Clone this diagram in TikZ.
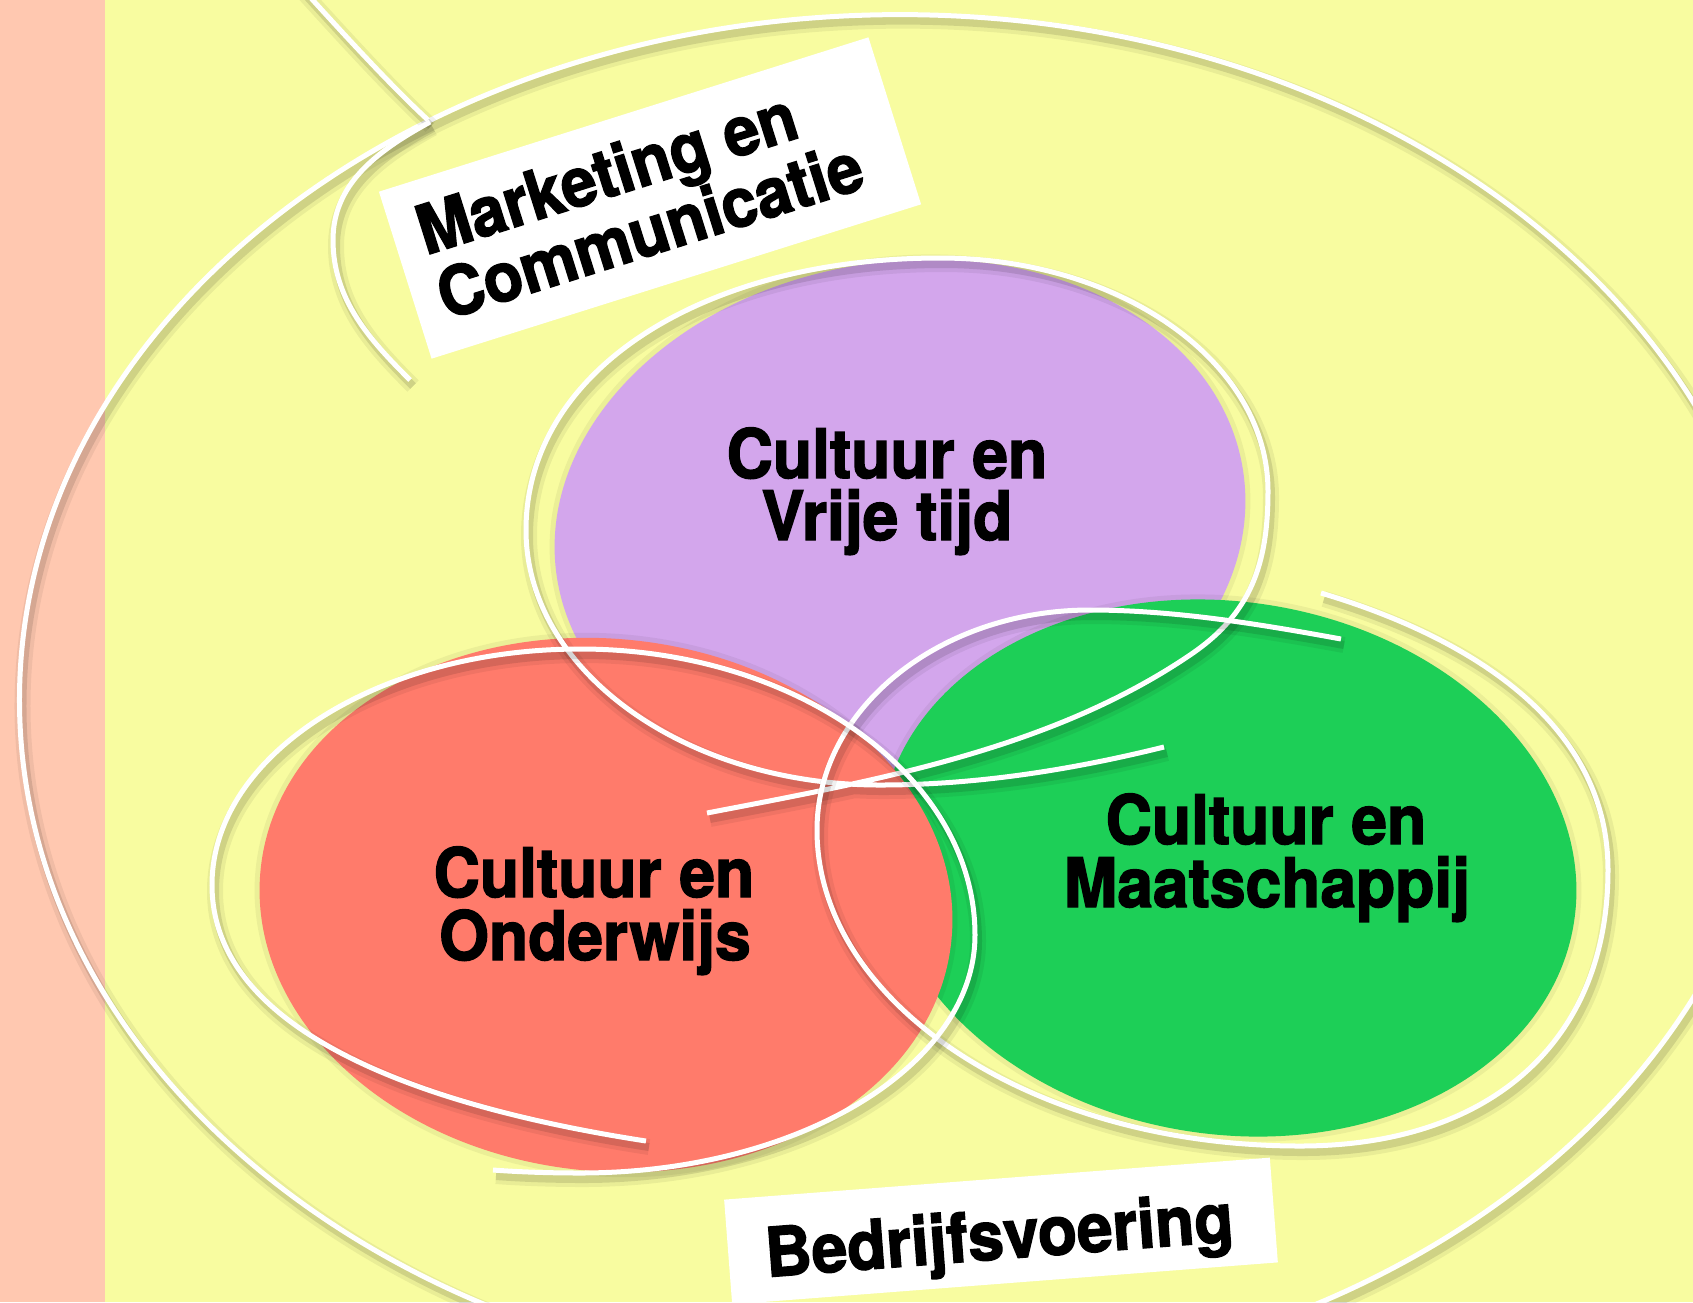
\documentclass[tikz,border=0pt]{standalone}
\usepackage{fontspec}
\newfontfamily\lblfont{TeX Gyre Heros}[FakeStretch=0.94, FakeBold=2]
\definecolor{bgyellow}{HTML}{F8FCA0}
\definecolor{stripc}{HTML}{FFC8B0}
\definecolor{purp}{HTML}{D3A6EC}
\definecolor{redc}{HTML}{FF7B6B}
\definecolor{grn}{HTML}{1DCF57}
\tikzset{
  ring/.style={draw=white, line width=0.05cm,
    preaction={draw=black, opacity=0.06, line width=0.16cm, transform canvas={xshift=0.03cm,yshift=-0.06cm}},
    preaction={draw=black, opacity=0.11, line width=0.08cm, transform canvas={xshift=0.03cm,yshift=-0.06cm}}},
  blob/.style={preaction={draw=black, opacity=0.05, line width=0.1cm}},
  lbl/.style={font=\lblfont\bfseries\fontsize{19.4pt}{19.3pt}\selectfont, text=black, inner sep=0pt},
  tagbox/.style={fill=white, draw=none, inner sep=0pt}
}
\begin{document}
\begin{tikzpicture}[x=0.01cm, y=-0.01cm]
\useasboundingbox (0,0) rectangle (1693,1302);
\clip (0,0) rectangle (1693,1302);
\fill[bgyellow] (0,0) rectangle (1693,1302);
\fill[stripc] (0,0) rectangle (105,1302);

% coloured fields
\fill[purp, blob, rotate around={9:(900,524)}] (900,524) ellipse [x radius=3.47cm, y radius=2.62cm];
\fill[grn, blob, rotate around={-9:(1228,868)}] (1228,868) ellipse [x radius=3.5cm, y radius=2.66cm];
\fill[redc, blob, rotate around={-6:(606,905)}] (606,905) ellipse [x radius=3.47cm, y radius=2.66cm];

% outer ring
\draw[ring] (900,700) ellipse [x radius=8.8cm, y radius=6.85cm];
% top line and inner arc
\draw[ring] (300,-14) .. controls (340,30) and (390,85) .. (428,120);
\draw[ring] (430,122) .. controls (375,152) and (333,185) .. (333,240)
                      .. controls (333,300) and (370,340) .. (410,380);

% purple ring
\draw[ring] (707,813) .. controls (873,781) and (1050,750) .. (1190,655)
  .. controls (1251,614) and (1268,564) .. (1268,491)
  .. controls (1268,362) and (1121,258) .. (940,258)
  .. controls (700,258) and (526,372) .. (526,530)
  .. controls (526,671) and (685,785) .. (880,785)
  .. controls (976,785) and (1071,770) .. (1164,747);

% green ring
\draw[ring] (1321,593) .. controls (1465,636) and (1608,720) .. (1608,870)
  .. controls (1608,1041) and (1491,1146) .. (1300,1146)
  .. controls (1033,1146) and (817,1004) .. (817,830)
  .. controls (817,709) and (939,610) .. (1090,610)
  .. controls (1174,610) and (1259,624) .. (1341,639);

% red ring
\draw[ring] (646,1141) .. controls (406,1104) and (212,1026) .. (212,885)
  .. controls (212,755) and (377,649) .. (580,649)
  .. controls (798,649) and (975,777) .. (975,935)
  .. controls (975,1066) and (798,1173) .. (580,1173)
  .. controls (550,1173) and (520,1172) .. (493,1170);

% field labels
\node[lbl, anchor=base] (p1) at (887,478) {Cultuur en};
\node[lbl, anchor=base] (p2) at (887,540) {Vrije tijd};
\node[lbl, anchor=base] (r1) at (594,897) {Cultuur en};
\node[lbl, anchor=base] (r2) at (595,960) {Onderwijs};
\node[lbl, anchor=base] (g1) at (1266,844) {Cultuur en};
\node[lbl, anchor=base] (g2) at (1267,907) {Maatschappij};

% tags
\node[tagbox, rotate=17.5, minimum width=5.13cm, minimum height=1.75cm] (mkbox) at (650,198) {};
\node[lbl, rotate=17.5, align=left, anchor=west] (mk) at (428,264) {Marketing en\\Communicatie};

\node[tagbox, rotate=4.4, minimum width=5.47cm, minimum height=1.05cm] (bvbox) at (1001,1231) {};
\node[lbl, rotate=4.4, anchor=base] (bv) at (1001,1259) {Bedrijfsvoering};
\end{tikzpicture}
\end{document}
